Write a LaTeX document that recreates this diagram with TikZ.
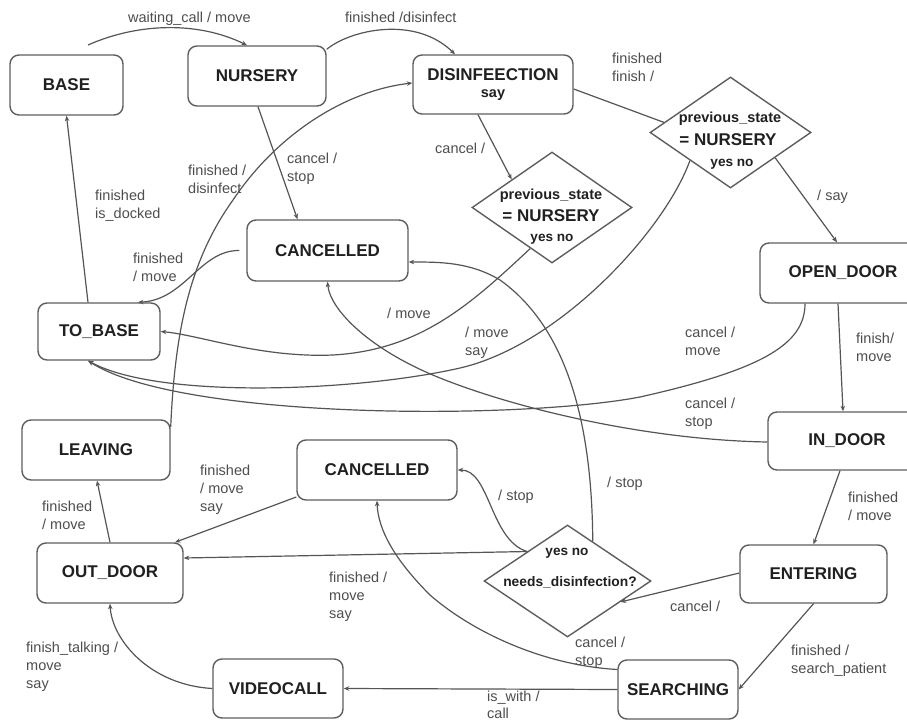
\documentclass[tikz,border=0pt]{standalone}
\usepackage{fontspec}
\setmainfont{Liberation Sans}
\usetikzlibrary{arrows.meta,calc,shapes.geometric}

\definecolor{edgegray}{HTML}{555555}
\definecolor{boxgray}{HTML}{5E5E5E}
\definecolor{lblgray}{HTML}{4E4E4E}
\definecolor{titlegray}{HTML}{202020}

\tikzset{
  state/.style={draw=boxgray, line width=1.4pt, rounded corners=9pt, inner sep=0pt,
    text=titlegray, font=\bfseries\fontsize{17}{20}\selectfont, align=center},
  choice/.style={diamond, draw=boxgray, line width=1.4pt, inner sep=0pt},
  choicetxt/.style={anchor=base, inner sep=0pt, text=titlegray},
  lbl/.style={anchor=north west, inner sep=0pt, align=left, text=lblgray,
    font=\fontsize{14.5}{18}\selectfont},
  arr/.style={draw=edgegray, line width=1.2pt, -{Stealth[length=5.5pt,width=4.5pt]}},
  plain/.style={draw=edgegray, line width=1.2pt},
}

\begin{document}
\begin{tikzpicture}[x=1pt,y=-1pt]
\useasboundingbox (0,0) rectangle (907,722);
\fill[white] (0,0) rectangle (907,722);
\clip (0,0) rectangle (907,722);

% states
\node[state, minimum width=113pt, minimum height=60pt] (base) at (66.5,85) {BASE};
\node[state, minimum width=138pt, minimum height=60pt] (nursery) at (257,76) {NURSERY};
\node[state, minimum width=160pt, minimum height=59pt] (disinf) at (493,84.5)
  {DISINFEECTION\\[-3pt]{\fontsize{14.5}{16}\selectfont say}};
\node[state, minimum width=161pt, minimum height=61pt] (cancA) at (327.5,250.5) {CANCELLED};
\node[state, minimum width=122pt, minimum height=57pt] (tobase) at (99,331.5) {TO\_BASE};
\node[state, minimum width=166pt, minimum height=60pt] (opendoor) at (843,273) {OPEN\_DOOR};
\node[state, minimum width=158pt, minimum height=58pt] (indoor) at (847,441) {IN\_DOOR};
\node[state, minimum width=148pt, minimum height=60pt] (leaving) at (96,450) {LEAVING};
\node[state, minimum width=160pt, minimum height=60pt] (cancB) at (377,470) {CANCELLED};
\node[state, minimum width=146pt, minimum height=60pt] (outdoor) at (110,573) {OUT\_DOOR};
\node[state, minimum width=147pt, minimum height=58pt] (entering) at (813.5,574) {ENTERING};
\node[state, minimum width=120pt, minimum height=59pt] (searching) at (678,689.5) {SEARCHING};
\node[state, minimum width=130pt, minimum height=59pt] (videocall) at (278,688.5) {VIDEOCALL};

% choice points
\node[choice, minimum width=161pt, minimum height=111pt] (d1) at (730.5,132.5) {};
\node[choice, minimum width=160pt, minimum height=111pt] (d2) at (552,207.5) {};
\node[choice, minimum width=167pt, minimum height=112pt] (d3) at (567.5,581) {};

\node[choicetxt, font=\bfseries\fontsize{14.5}{16}\selectfont] (d1a) at (730,123) {previous\_state};
\node[choicetxt, font=\bfseries\fontsize{17}{19}\selectfont] (d1b) at (728,146) {= NURSERY};
\node[choicetxt, font=\bfseries\fontsize{13.6}{16}\selectfont] (d1c) at (732,167) {yes no};
\node[choicetxt, font=\bfseries\fontsize{14.5}{16}\selectfont] (d2a) at (551,200) {previous\_state};
\node[choicetxt, font=\bfseries\fontsize{17}{19}\selectfont] (d2b) at (551,222) {= NURSERY};
\node[choicetxt, font=\bfseries\fontsize{13.6}{16}\selectfont] (d2c) at (552,241) {yes no};
\node[choicetxt, font=\bfseries\fontsize{13.6}{16}\selectfont] (d3a) at (567,555) {yes no};
\node[choicetxt, font=\bfseries\fontsize{13.8}{16}\selectfont] (d3b) at (570,586) {needs\_disinfection?};

% transitions
\coordinate (wcstart) at (88,45);
\draw[arr] (wcstart) .. controls (140,22) and (200,22) .. ([xshift=-10pt]nursery.north);
\draw[arr] ([yshift=-4pt]nursery.north east) .. controls (350,30) and (415,15) .. ([xshift=-38pt]disinf.north);
\draw[arr] ([xshift=1pt]nursery.south) -- ([xshift=-30pt]cancA.north);
\draw[arr] ([xshift=-15pt]disinf.south) -- (d2.north west);
\draw[plain] ([yshift=-4.5pt]disinf.east) -- ($(d1.west)!0.18!(d1.north)$);
\draw[arr] ($(d1.east)!0.45!(d1.south)$) -- ([xshift=-6pt]opendoor.north);
\draw[arr] ($(d1.west)!0.5!(d1.south)$) .. controls (665,230) and (560,345) .. (460,368)
  .. controls (360,391) and (160,400) .. ([xshift=-11pt]tobase.south);
\draw[arr] ([xshift=-38pt]opendoor.south) .. controls (805,345) and (760,370) .. (640,397)
  .. controls (520,420) and (180,420) .. ([xshift=-11pt]tobase.south);
\draw[arr] ([yshift=-1pt]indoor.west) .. controls (650,440) and (520,410) .. (440,378)
  .. controls (370,350) and (330,310) .. (cancA.south);
\draw[arr] ($(d2.south)!0.27!(d2.west)$) .. controls (470,305) and (420,350) .. (333,355)
  .. controls (260,358) and (200,335) .. (tobase.east);
\draw[arr] ([xshift=-7pt]cancA.west) .. controls (200,250) and (185,300) .. ([xshift=39pt]tobase.north);
\draw[arr] ([xshift=-11pt]tobase.north) -- (base.south);
\draw[arr] ([yshift=23pt]leaving.east) .. controls (175,330) and (190,260) .. (233,200)
  .. controls (280,130) and (350,90) .. ([yshift=1.5pt]disinf.west);
\draw[arr] ($(d3.north)!0.3!(d3.east)$) .. controls (592,430) and (570,330) .. (500,280)
  .. controls (470,262) and (440,262) .. ([yshift=-11.5pt]cancA.east);
\draw[arr] ($(d3.west)!0.52!(d3.north)$) .. controls (490,540) and (490,470) .. (cancB.east);
\draw[arr] ($(d3.west)!0.52!(d3.north)$) -- ([yshift=15pt]outdoor.east);
\draw[arr] ([yshift=-27pt]cancB.west) -- ([xshift=65pt]outdoor.north);
\draw[arr] (outdoor.north) -- ([xshift=1pt]leaving.south);
\draw[arr] (videocall.west) .. controls (150,685) and (112,640) .. (outdoor.south);
\draw[arr] (searching.west) -- (videocall.east);
\draw[arr] ([yshift=20pt]searching.west) .. controls (540,665) and (470,630) .. (430,595)
  .. controls (395,560) and (378,530) .. (cancB.south);
\draw[arr] ([yshift=1pt]entering.west) -- ($(d3.east)!0.37!(d3.south)$);
\draw[arr] (entering.south) -- (searching.east);
\draw[arr] ([xshift=-7pt]indoor.south) -- (entering.north);
\draw[arr] ([xshift=-5pt]opendoor.south) -- ([xshift=-4pt]indoor.north);

% transition labels
\node[lbl] (l1) at (128,12) {waiting\_call / move};
\node[lbl] (l2) at (345,12) {finished /disinfect};
\node[lbl] (l3) at (188,165) {finished /\\disinfect};
\node[lbl] (l4) at (287,153) {cancel /\\stop};
\node[lbl] (l5) at (95,190) {finished\\is\_docked};
\node[lbl] (l6) at (435,143) {cancel /};
\node[lbl] (l7) at (612,53) {finished\\finish /};
\node[lbl] (l8) at (817,190) {/ say};
\node[lbl] (l9) at (133,253) {finished\\/ move};
\node[lbl] (l10) at (387,308) {/ move};
\node[lbl] (l11) at (465,327) {/ move\\say};
\node[lbl] (l12) at (685,327) {cancel /\\move};
\node[lbl] (l13) at (856,333) {finish/\\move};
\node[lbl] (l14) at (685,398) {cancel /\\stop};
\node[lbl] (l15) at (200,465) {finished\\/ move\\say};
\node[lbl] (l16) at (42,501) {finished\\/ move};
\node[lbl] (l17) at (498,490) {/ stop};
\node[lbl] (l18) at (607,477) {/ stop};
\node[lbl] (l19) at (848,492) {finished\\/ move};
\node[lbl] (l20) at (329,572) {finished /\\move\\say};
\node[lbl] (l21) at (670,601) {cancel /};
\node[lbl] (l22) at (575,637) {cancel /\\stop};
\node[lbl] (l23) at (791,645) {finished /\\search\_patient};
\node[lbl, font=\fontsize{14.5}{16.5}\selectfont] (l24) at (487,691) {is\_with /\\call};
\node[lbl] (l25) at (26,642) {finish\_talking /\\move\\say};
\end{tikzpicture}
\end{document}
